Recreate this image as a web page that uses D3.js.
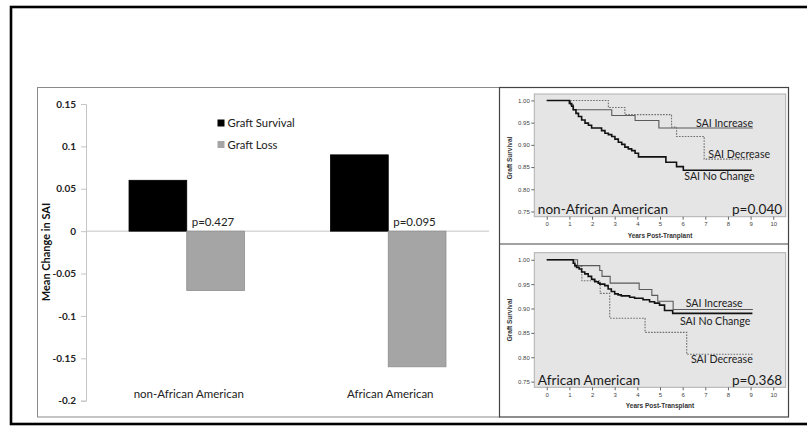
<!DOCTYPE html>
<html>
<head>
<meta charset="utf-8">
<script src="https://cdn.jsdelivr.net/npm/d3@7"></script>
<style>
  html, body { margin: 0; padding: 0; background: #fff; }
  svg { display: block; }
</style>
</head>
<body>
<svg id="fig" width="807" height="428"></svg>
<script>
// ---- Bar chart: mean change in SAI by race and graft outcome ----
const groups = ["non-African American", "African American"];
const outcomes = ["Graft Survival", "Graft Loss"];
const survivalChange = [0.06, 0.09];
const lossChange = [-0.07, -0.16];
const pValues = ["p=0.427", "p=0.095"];
const barTicks = [0.15, 0.1, 0.05, 0, -0.05, -0.1, -0.15, -0.2];

// ---- Kaplan-Meier curves: [years, survival] at each step ----
const kmSeries = ["SAI Increase", "SAI Decrease", "SAI No Change"];
const kmYTicks = [1.00, 0.95, 0.90, 0.85, 0.80, 0.75];
const kmXTicks = [0, 1, 2, 3, 4, 5, 6, 7, 8, 9, 10];

const nonAAIncrease = [[0,1],[1.05,0.990],[1.17,0.979],[2.87,0.966],[3.90,0.955],[4.95,0.938],[9.10,0.938]];
const nonAADecrease = [[0,1],[2.72,0.984],[3.45,0.968],[5.51,0.940],[5.73,0.919],[6.95,0.868],[9.10,0.868]];
const nonAANoChange = [[0,1],[1.00,0.993],[1.10,0.987],[1.17,0.979],[1.29,0.971],[1.40,0.964],[1.54,0.956],
  [1.69,0.949],[1.84,0.944],[1.98,0.938],[2.42,0.932],[2.57,0.926],[2.72,0.923],[2.87,0.919],[3.01,0.913],
  [3.16,0.906],[3.31,0.901],[3.45,0.895],[3.60,0.891],[3.75,0.887],[3.90,0.881],[4.05,0.873],[5.26,0.861],
  [5.73,0.851],[6.03,0.843],[9.05,0.843]];

const aaIncrease = [[0,1],[1.36,0.988],[2.34,0.978],[2.44,0.966],[2.80,0.952],[4.08,0.939],[4.64,0.927],[4.90,0.915],[5.58,0.898],[9.10,0.898]];
const aaDecrease = [[0,1],[1.24,0.986],[1.55,0.957],[2.36,0.931],[2.78,0.880],[4.34,0.851],[6.18,0.806],[9.10,0.806]];
const aaNoChange = [[0,1],[1.17,0.993],[1.24,0.988],[1.32,0.984],[1.43,0.981],[1.54,0.975],[1.68,0.971],[1.83,0.966],
  [1.98,0.960],[2.12,0.955],[2.27,0.952],[2.34,0.950],[2.56,0.947],[2.71,0.940],[2.85,0.935],[3.00,0.930],
  [3.15,0.928],[3.29,0.926],[3.66,0.923],[3.88,0.921],[4.25,0.918],[4.54,0.914],[4.76,0.911],[4.98,0.907],
  [5.20,0.896],[5.56,0.890],[9.08,0.890]];

const svg = d3.select("#fig");
const FONT = "Lato, 'Open Sans', sans-serif";
const ARIAL = "'Liberation Sans', Arial, sans-serif";

// outer frame (runs off the right edge)
svg.append("rect").attr("x", 11).attr("y", 7).attr("width", 830).attr("height", 417)
  .attr("fill", "none").attr("stroke", "#000").attr("stroke-width", 2.6);

// panel boxes
svg.append("rect").attr("x", 37.5).attr("y", 87.5).attr("width", 462).attr("height", 329.5)
  .attr("fill", "#fff").attr("stroke", "#8a8a8a").attr("stroke-width", 1);
svg.append("rect").attr("x", 499.5).attr("y", 87.5).attr("width", 289).attr("height", 329.5)
  .attr("fill", "#fff").attr("stroke", "#444").attr("stroke-width", 1.2);
svg.append("line").attr("x1", 499.5).attr("x2", 788.5).attr("y1", 244).attr("y2", 244)
  .attr("stroke", "#444").attr("stroke-width", 1.2);

// ---------- bar chart ----------
const y = d3.scaleLinear().domain([-0.2, 0.15]).range([400.7, 104]);
const x0 = d3.scaleBand().domain(groups).range([86, 489]).paddingInner(0.427).paddingOuter(0.2135);
const x1 = d3.scaleBand().domain(outcomes).range([0, x0.bandwidth()]);
const barColor = d3.scaleOrdinal().domain(outcomes).range(["#000000", "#a5a5a5"]);

const bars = groups.map((g, i) => [
  { group: g, outcome: outcomes[0], value: survivalChange[i] },
  { group: g, outcome: outcomes[1], value: lossChange[i] }
]).flat();

const yAxis = d3.axisLeft(y).tickValues(barTicks).tickSize(5).tickPadding(5).tickFormat(d => String(d));
const ya = svg.append("g").attr("transform", "translate(86,0)").call(yAxis);
ya.select(".domain").attr("stroke", "#c4c4c4");
ya.selectAll(".tick line").attr("stroke", "#c4c4c4");
ya.selectAll(".tick text").attr("font-family", FONT).attr("font-weight", "bold")
  .attr("font-size", 10).attr("fill", "#222");

// zero line
svg.append("line").attr("x1", 86).attr("x2", 489).attr("y1", y(0)).attr("y2", y(0))
  .attr("stroke", "#c4c4c4").attr("stroke-width", 1);

svg.append("g").selectAll("rect").data(bars).join("rect")
  .attr("x", d => x0(d.group) + x1(d.outcome))
  .attr("width", x1.bandwidth())
  .attr("y", d => y(Math.max(0, d.value)))
  .attr("height", d => Math.abs(y(d.value) - y(0)))
  .attr("fill", d => barColor(d.outcome))
  .attr("stroke", d => d.outcome === outcomes[1] ? "#8e8e8e" : "#000")
  .attr("stroke-width", 0.8);

// p-values beside the graft-loss bars
svg.append("g").selectAll("text").data(groups).join("text")
  .attr("x", g => x0(g) + x1(outcomes[1]) + 5)
  .attr("y", y(0) - 5)
  .attr("font-family", FONT).attr("font-size", 11.5).attr("fill", "#222")
  .text((g, i) => pValues[i]);

// category labels
svg.append("g").selectAll("text").data(groups).join("text")
  .attr("x", g => x0(g) + x0.bandwidth() / 2 + 2)
  .attr("y", 398)
  .attr("text-anchor", "middle")
  .attr("font-family", FONT).attr("font-size", 11.5).attr("fill", "#222")
  .text(g => g);

// y-axis title
svg.append("text").attr("transform", "translate(50,252) rotate(-90)")
  .attr("text-anchor", "middle").attr("font-family", FONT).attr("font-weight", "bold")
  .attr("font-size", 11).attr("fill", "#111").text("Mean Change in SAI");

// legend
const leg = svg.append("g").selectAll("g").data(outcomes).join("g")
  .attr("transform", (d, i) => `translate(217.5,${123 + i * 21.5})`);
leg.append("rect").attr("x", 0).attr("y", -3.5).attr("width", 7).attr("height", 7)
  .attr("fill", d => barColor(d));
leg.append("text").attr("x", 10).attr("y", 4.2)
  .attr("font-family", FONT).attr("font-size", 11.3).attr("fill", "#222").text(d => d);

// ---------- Kaplan-Meier panels ----------
const panels = [
  {
    name: "non-African American", p: "p=0.040", xTitle: "Years Post-Tranplant",
    box: { x0: 534.3, x1: 785.7, y0: 94, y1: 216.7 }, yTitleY: 158,
    curves: { "SAI Increase": nonAAIncrease, "SAI Decrease": nonAADecrease, "SAI No Change": nonAANoChange },
    labels: { "SAI Increase": [696, 122.7], "SAI Decrease": [708.3, 154], "SAI No Change": [684.3, 176] }
  },
  {
    name: "African American", p: "p=0.368", xTitle: "Years Post-Transplant",
    box: { x0: 534.3, x1: 785.7, y0: 252.7, y1: 387.3 }, yTitleY: 320,
    curves: { "SAI Increase": aaIncrease, "SAI Decrease": aaDecrease, "SAI No Change": aaNoChange },
    labels: { "SAI Increase": [685.7, 303.3], "SAI Decrease": [691, 359.3], "SAI No Change": [680, 320.7] }
  }
];

const kmStyle = {
  "SAI Increase": { stroke: "#5a5a5a", width: 1.1, dash: null },
  "SAI Decrease": { stroke: "#6e6e6e", width: 1.1, dash: "1.6,1.3" },
  "SAI No Change": { stroke: "#111", width: 1.6, dash: null }
};

panels.forEach(pn => {
  const b = pn.box;
  const kx = d3.scaleLinear().domain([-0.55, 10.55]).range([b.x0, b.x1]);
  const ky = d3.scaleLinear().domain([0.7383, 1.0145]).range([b.y1, b.y0]);
  const g = svg.append("g");

  g.append("rect").attr("x", b.x0).attr("y", b.y0).attr("width", b.x1 - b.x0).attr("height", b.y1 - b.y0)
    .attr("fill", "#e5e5e5").attr("stroke", "#b0b0b0").attr("stroke-width", 1);

  const ax = g.append("g").attr("transform", `translate(0,${b.y1})`)
    .call(d3.axisBottom(kx).tickValues(kmXTicks).tickSize(3).tickPadding(2).tickFormat(d3.format("d")));
  ax.select(".domain").remove();
  ax.selectAll(".tick line").attr("stroke", "#666");
  ax.selectAll(".tick text").attr("font-family", ARIAL).attr("font-size", 6).attr("fill", "#444");

  const ay = g.append("g").attr("transform", `translate(${b.x0},0)`)
    .call(d3.axisLeft(ky).tickValues(kmYTicks).tickSize(3).tickPadding(1.5).tickFormat(d3.format(".2f")));
  ay.select(".domain").remove();
  ay.selectAll(".tick line").attr("stroke", "#666");
  ay.selectAll(".tick text").attr("font-family", ARIAL).attr("font-size", 6).attr("fill", "#444");

  const line = d3.line().x(d => kx(d[0])).y(d => ky(d[1])).curve(d3.curveStepAfter);
  kmSeries.forEach(s => {
    const st = kmStyle[s];
    g.append("path").datum(pn.curves[s]).attr("d", line)
      .attr("fill", "none").attr("stroke", st.stroke).attr("stroke-width", st.width)
      .attr("stroke-dasharray", st.dash);
    const [lx, ly] = pn.labels[s];
    g.append("text").attr("x", lx).attr("y", ly + 3.8)
      .attr("font-family", FONT).attr("font-size", 10.6).attr("fill", "#222").text(s);
  });

  g.append("text").attr("x", b.x0 + 3.5).attr("y", b.y1 - 2.5)
    .attr("font-family", FONT).attr("font-size", 13.6).attr("fill", "#1a1a1a").text(pn.name);
  g.append("text").attr("x", b.x1 - 3.5).attr("y", b.y1 - 2.5).attr("text-anchor", "end")
    .attr("font-family", FONT).attr("font-size", 13.6).attr("fill", "#1a1a1a").text(pn.p);

  g.append("text").attr("x", (kx(0) + kx(10)) / 2).attr("y", b.y1 + 21)
    .attr("text-anchor", "middle").attr("font-family", ARIAL).attr("font-weight", "bold")
    .attr("font-size", 6.5).attr("fill", "#333").text(pn.xTitle);
  g.append("text").attr("transform", `translate(512,${pn.yTitleY}) rotate(-90)`)
    .attr("text-anchor", "middle").attr("font-family", ARIAL).attr("font-weight", "bold")
    .attr("font-size", 6.5).attr("fill", "#333").text("Graft Survival");
});
</script>
</body>
</html>
